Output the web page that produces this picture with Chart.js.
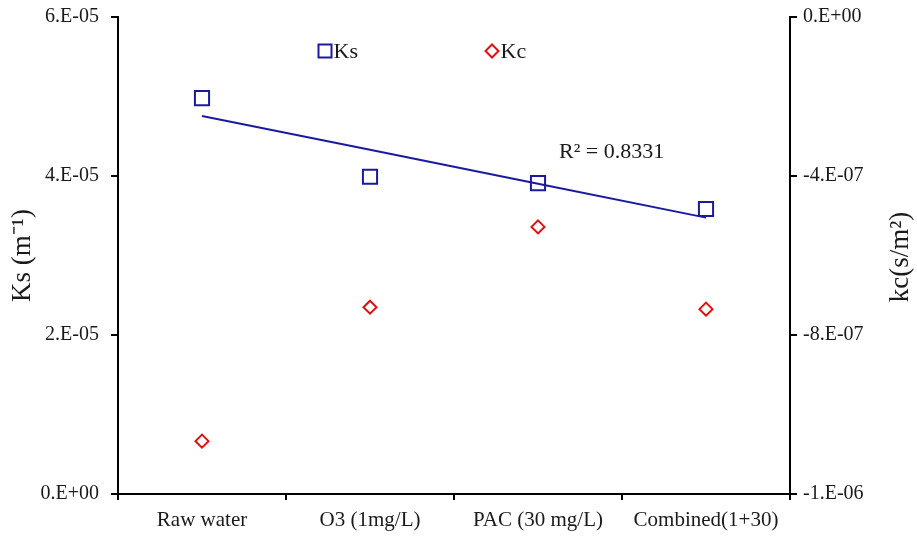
<!DOCTYPE html>
<html>
<head>
<meta charset="utf-8">
<script src="https://cdn.jsdelivr.net/npm/chart.js@4/dist/chart.umd.min.js"></script>
<style>
  html, body { margin: 0; padding: 0; background: #fff; }
  #wrap { width: 917px; height: 545px; }
</style>
</head>
<body>
<div id="wrap"><canvas id="myChart" width="917" height="545"></canvas></div>
<script>
'use strict';

var categories = ['Raw water', 'O3 (1mg/L)', 'PAC (30 mg/L)', 'Combined(1+30)'];
var ksValues = [4.98e-5, 3.99e-5, 3.91e-5, 3.585e-5];
var kcValues = [-1.067e-6, -7.30e-7, -5.28e-7, -7.35e-7];
var ksTicks = [0, 2e-5, 4e-5, 6e-5];
var kcTicks = [-1.2e-6, -8e-7, -4e-7, 0];
var r2Label = 'R\u00B2 = 0.8331';

var blue = '#1a1aa0';
var red = '#e01010';
var font = 'Liberation Serif';
var textColor = '#1a1a1a';

// linear trend of Ks over category index
function trend(vals){
  var n = vals.length, sx = 0, sy = 0, sxy = 0, sxx = 0, i;
  for (i = 0; i < n; i++){
    sx += i; sy += vals[i]; sxy += i * vals[i]; sxx += i * i;
  }
  var b = (n * sxy - sx * sy) / (n * sxx - sx * sx);
  var a = (sy - b * sx) / n;
  var out = [];
  for (i = 0; i < n; i++) out.push(a + b * i);
  return out;
}

function fmtExp(v){
  if (Math.abs(v) < 1e-15) return '0.E+00';
  var s = v.toExponential(0);           // e.g. "6e-5"
  var p = s.split('e');
  var e = parseInt(p[1], 10);
  var sign = e < 0 ? '-' : '+';
  var ee = Math.abs(e);
  return p[0] + '.E' + sign + (ee < 10 ? '0' + ee : ee);
}

var legendPlugin = {
  id: 'inLegend',
  afterDraw: function(chart){
    var ctx = chart.ctx;
    var items = [
      { x: 325, y: 51, style: 'rect', r: 6.5, color: blue, text: 'Ks' },
      { x: 492, y: 51, style: 'rectRot', r: 6.5, color: red, text: 'Kc' }
    ];
    ctx.save();
    ctx.font = '22px "' + font + '"';
    ctx.textBaseline = 'middle';
    items.forEach(function(it){
      ctx.lineWidth = 2;
      ctx.strokeStyle = it.color;
      ctx.beginPath();
      if (it.style === 'rect'){
        ctx.rect(it.x - it.r, it.y - it.r, it.r * 2, it.r * 2);
      } else {
        ctx.moveTo(it.x, it.y - it.r); ctx.lineTo(it.x + it.r, it.y);
        ctx.lineTo(it.x, it.y + it.r); ctx.lineTo(it.x - it.r, it.y);
        ctx.closePath();
      }
      ctx.stroke();
      ctx.fillStyle = textColor;
      ctx.textAlign = 'left';
      ctx.fillText(it.text, it.x + it.r + 2, it.y + 1);
    });
    ctx.fillText(r2Label, 559, 152);

    // right axis title, reading bottom to top like the left one
    ctx.translate(901, 257);
    ctx.rotate(-Math.PI / 2);
    ctx.textAlign = 'center';
    ctx.font = '27px "' + font + '"';
    ctx.fillText('kc(s/m\u00B2)', 0, 0);
    ctx.restore();
  }
};

function noPad(s){
  s.paddingTop = 0;
  s.paddingBottom = 0;
}

var ctx = document.getElementById('myChart');

var chart = new Chart(ctx, {
  type: 'line',
  data: {
    labels: categories,
    datasets: [
      {
        label: 'Ks',
        data: ksValues,
        yAxisID: 'y',
        showLine: false,
        pointStyle: 'rect',
        pointRadius: 10,
        pointBorderWidth: 2,
        pointBorderColor: blue,
        pointBackgroundColor: 'rgba(0,0,0,0)',
        borderColor: blue
      },
      {
        label: 'Kc',
        data: kcValues,
        yAxisID: 'y1',
        showLine: false,
        pointStyle: 'rectRot',
        pointRadius: 6.5,
        pointBorderWidth: 2,
        pointBorderColor: red,
        pointBackgroundColor: 'rgba(0,0,0,0)',
        borderColor: red
      },
      {
        label: 'trend',
        data: trend(ksValues),
        yAxisID: 'y',
        pointRadius: 0,
        borderColor: blue,
        borderWidth: 2,
        fill: false
      }
    ]
  },
  options: {
    responsive: false,
    animation: false,
    layout: { padding: { top: 17, right: 0, left: 0, bottom: 0 } },
    plugins: {
      legend: { display: false },
      tooltip: { enabled: false }
    },
    scales: {
      x: {
        offset: true,
        grid: { offset: true, drawOnChartArea: false, color: '#000', lineWidth: 2, tickLength: 6 },
        border: { color: '#000', width: 2 },
        ticks: { color: textColor, font: { family: font, size: 21 }, padding: 8, maxRotation: 0 },
        afterFit: function(s){ s.height = 51; }
      },
      y: {
        position: 'left',
        min: 0, max: 6e-5,
        afterBuildTicks: function(s){ s.ticks = ksTicks.map(function(v){ return { value: v }; }); },
        grid: { drawOnChartArea: false, color: '#000', lineWidth: 2, tickLength: 7 },
        border: { color: '#000', width: 2 },
        ticks: { color: textColor, font: { family: font, size: 20 }, padding: 12, callback: function(v){ return fmtExp(v); } },
        title: { display: true, text: 'Ks (m\u207B\u00B9)', color: textColor, font: { family: font, size: 27 }, padding: { top: 7, bottom: 0 } },
        afterFit: function(s){ s.width = 118; noPad(s); }
      },
      y1: {
        position: 'right',
        min: -1.2e-6, max: 0,
        afterBuildTicks: function(s){ s.ticks = kcTicks.map(function(v){ return { value: v }; }); },
        grid: { drawOnChartArea: false, color: '#000', lineWidth: 2, tickLength: 7 },
        border: { color: '#000', width: 2 },
        ticks: { color: textColor, font: { family: font, size: 20 }, padding: 6, callback: function(v){ return fmtExp(v); } },
        afterFit: function(s){ s.width = 127; noPad(s); }
      }
    }
  },
  plugins: [legendPlugin]
});
</script>
</body>
</html>
